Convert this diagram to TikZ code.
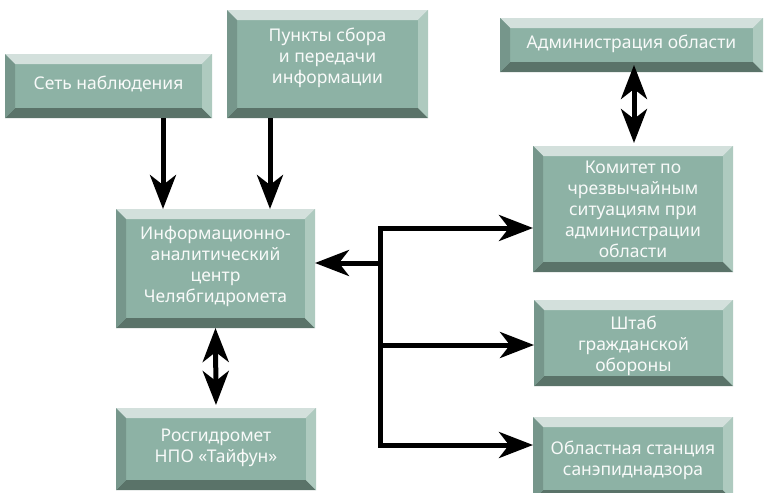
\documentclass[tikz,border=0pt]{standalone}
\usepackage{fontspec}
\setmainfont{Noto Sans}
\usetikzlibrary{arrows.meta}
\definecolor{face}{RGB}{141,178,165}
\definecolor{btop}{RGB}{211,224,220}
\definecolor{bleft}{RGB}{118,150,139}
\definecolor{bright}{RGB}{174,202,191}
\definecolor{bbot}{RGB}{90,115,105}
\definecolor{txt}{RGB}{248,250,249}
\newcommand{\bbox}[7]{%
 \fill[face] (#2,#3) rectangle (#4,#5);
 \fill[btop] (#2,#3) -- (#4,#3) -- (#4-10,#3+10) -- (#2+10,#3+10) -- cycle;
 \fill[bbot] (#2,#5) -- (#4,#5) -- (#4-10,#5-10) -- (#2+10,#5-10) -- cycle;
 \fill[bleft] (#2,#3) -- (#2+10,#3+10) -- (#2+10,#5-10) -- (#2,#5) -- cycle;
 \fill[bright] (#4,#3) -- (#4-10,#3+10) -- (#4-10,#5-10) -- (#4,#5) -- cycle;
 \node[boxshape, minimum width={(#4-#2)*1pt}, minimum height={(#5-#3)*1pt}] (#1) at ({(#2+#4)/2},{(#3+#5)/2}) {};
 \node[boxtext] (#1-t) at ({(#2+#4)/2},#6) {#7};
}
\tikzset{
 boxshape/.style={draw=none, inner sep=0pt, outer sep=0pt, rectangle},
 boxtext/.style={text=txt, align=center, inner sep=0pt, font=\fontsize{17.5}{21}\selectfont},
 tipA/.tip={Stealth[length=34pt, width=26pt, inset=10pt]},
 arr/.style={line width=5pt, -tipA},
 dbl/.style={line width=5pt, tipA-tipA},
}
\begin{document}
\begin{tikzpicture}[x=1pt, y=-1pt]
\useasboundingbox (0,0) rectangle (764,493);
\clip (0,0) rectangle (764,493);
\bbox{n1}{5}{54}{212}{118}{84}{Сеть наблюдения}
\bbox{n2}{227}{10}{428}{118}{58}{Пункты сбора\\и передачи\\информации}
\bbox{n3}{500}{18}{763}{72}{44}{Администрация области}
\bbox{n4}{533}{146}{733}{272}{209}{Комитет по\\чрезвычайным\\ситуациям при\\администрации\\области}
\bbox{n5}{116}{209}{315}{328}{266}{Информационно-\\аналитический\\центр\\Челябгидромета}
\bbox{n6}{534}{300}{733}{386}{346}{Штаб\\гражданской\\обороны}
\bbox{n7}{533}{417}{733}{500}{460}{Областная станция\\санэпиднадзора}
\bbox{n8}{116}{408}{316}{490}{448}{Росгидромет\\НПО «Тайфун»}
\coordinate (a1) at (163,0);
\coordinate (a2) at (270,0);
\coordinate (a3) at (634,0);
\coordinate (bt) at (380,228);
\coordinate (bl) at (380,263);
\coordinate (bm) at (380,345);
\coordinate (bb) at (380,445);
\draw[arr] (n1.south -| a1) -- (n5.north -| a1);
\draw[arr] (n2.south -| a2) -- (n5.north -| a2);
\draw[dbl, shorten <=-7pt, shorten >=3pt] (n3.south -| a3) -- (n4.north -| a3);
\draw[dbl, shorten >=3pt] (n5.south) -- (n8.north);
\draw[dbl, line join=miter] (n4.west |- bt) -- (bt) -- (bb) -- (n7.west |- bb);
\draw[arr] (bl) -- (n5.east |- bl);
\draw[arr] (bm) -- (n6.west |- bm);
\end{tikzpicture}
\end{document}
